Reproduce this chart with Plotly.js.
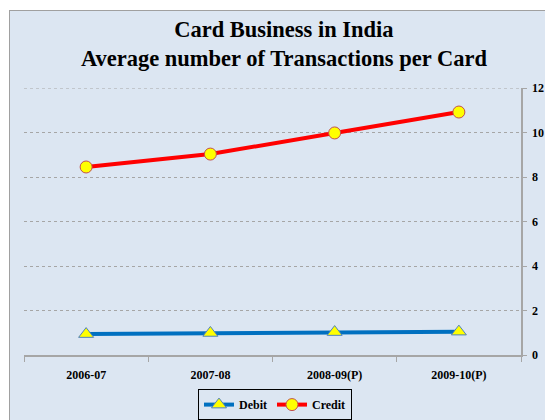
<!DOCTYPE html>
<html><head><meta charset="utf-8">
<script src="https://cdn.plot.ly/plotly-3.0.1.min.js"></script>
<style>
html,body{margin:0;padding:0;background:#fff;width:545px;height:420px;overflow:hidden;}
#chart{position:absolute;left:9px;top:10px;width:536px;height:410px;border-left:1px solid #a0a0a0;border-top:1px solid #a0a0a0;box-sizing:border-box;}
</style></head><body>
<div id="chart"></div>
<script>
const categories = ["2006-07","2007-08","2008-09(P)","2009-10(P)"];
const debit = [0.94, 0.99, 1.03, 1.05];
const credit = [8.45, 9.03, 9.98, 10.92];
const yTicks = [0,2,4,6,8,10,12];

const font = {family:"Liberation Serif, Times New Roman, serif", color:"#000", weight:"bold"};
const traces = [
  {x:categories, y:debit, name:"Debit", type:"scatter", mode:"lines+markers",
   line:{color:"#0070c0", width:4},
   marker:{symbol:"triangle-up", size:13, color:"#ffff00", line:{color:"#4f81bd", width:1}}},
  {x:categories, y:credit, name:"Credit", type:"scatter", mode:"lines+markers",
   line:{color:"#ff0000", width:4},
   marker:{symbol:"circle", size:12, color:"#ffff00", line:{color:"#c0504d", width:1}}}
];
const layout = {
  width:536, height:410,
  paper_bgcolor:"#dce6f2", plot_bgcolor:"#dce6f2",
  margin:{l:14, r:25, t:77, b:66, autoexpand:false},
  showlegend:true,
  title:{text:"<b>Card Business in India<br>Average number of Transactions per Card</b>",
    font:Object.assign({}, font, {size:22.5}), x:0.511, xanchor:"center", y:0.937, yanchor:"middle"},
  xaxis:{type:"category", showline:true, linecolor:"#a6a6a6", linewidth:1.5,
    ticks:"outside", tickson:"boundaries", ticklen:5, tickcolor:"#a6a6a6",
    showgrid:false, tickfont:Object.assign({}, font, {size:12}), range:[-0.5,3.5], ticklabelstandoff:8},
  yaxis:{side:"right", range:[0,12], tickvals:yTicks, showline:true, linecolor:"#a6a6a6", linewidth:1.5,
    ticks:"outside", ticklen:4, tickcolor:"#a6a6a6", zeroline:false,
    showgrid:true, gridcolor:"#a6a6a6", griddash:"dot", gridwidth:1,
    tickfont:Object.assign({}, font, {size:12}), ticklabelstandoff:3},
  shapes:[{type:"line", xref:"paper", yref:"y", x0:0, x1:1, y0:yTicks[yTicks.length-1], y1:yTicks[yTicks.length-1],
    line:{color:"#a6a6a6", width:1, dash:"dot"}, layer:"below"}],
  legend:{orientation:"h", x:0.505, xanchor:"center", yref:"container", y:0.04, yanchor:"middle",
    bordercolor:"#000", borderwidth:1, bgcolor:"#dce6f2",
    font:Object.assign({}, font, {size:12}), itemwidth:30, tracegroupgap:0}
};
Plotly.newPlot("chart", traces, layout, {displayModeBar:false, staticPlot:true});
</script>
</body></html>
